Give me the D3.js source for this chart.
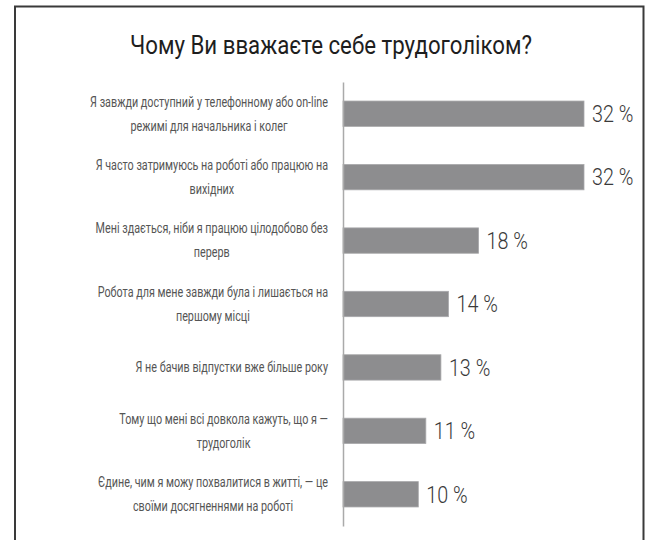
<!DOCTYPE html>
<html>
<head>
<meta charset="utf-8">
<script src="https://cdn.jsdelivr.net/npm/d3@7"></script>
<style>
  body { margin: 0; background: #fff; }
  svg { display: block; font-family: "Liberation Sans Narrow", "Roboto", sans-serif; }
</style>
</head>
<body>
<svg width="669" height="540"></svg>
<script>
"use strict";

const title = "Чому Ви вважаєте себе трудоголіком?";

// category labels, "\n" marks where the original wraps the line
const categories = [
  "Я завжди доступний у телефонному або on-line\nрежимі для начальника і колег",
  "Я часто затримуюсь на роботі або працюю на\nвихідних",
  "Мені здається, ніби я працюю цілодобово без\nперерв",
  "Робота для мене завжди була і лишається на\nпершому місці",
  "Я не бачив відпустки вже більше року",
  "Тому що мені всі довкола кажуть, що я —\nтрудоголік",
  "Єдине, чим я можу похвалитися в житті, — це\nсвоїми досягненнями на роботі",
];

const values = [32, 32, 18, 14, 13, 11, 10];

window.addEventListener("load", drawGraph);

// the original uses a narrow (Calibri-like) face, so squeeze the text a bit
const squeeze = 0.77;

function drawGraph() {
  const svg = d3.select("svg");
  const data = categories.map((c, i) => ({ label: c, value: values[i] }));

  // frame of the scanned chart (bottom edge is cut off)
  svg.append("path")
    .attr("d", "M15,545 V6.5 H643.5 V545")
    .attr("fill", "none")
    .attr("stroke", "#3a3a3a")
    .attr("stroke-width", 2);

  svg.append("text")
    .attr("transform", "translate(331,54) scale(0.89,1)")
    .attr("text-anchor", "middle")
    .style("font-size", "25px")
    .style("fill", "#1e1e1e")
    .text(title);

  const y = d3.scaleBand()
    .domain(data.map((d) => d.label))
    .range([82, 526])
    .paddingInner(0.6)
    .paddingOuter(0.3);

  const x = d3.scaleLinear()
    .domain([0, d3.max(values)])
    .range([343, 584]);

  svg.selectAll(".bar")
    .data(data)
    .enter()
    .append("rect")
    .attr("class", "bar")
    .attr("x", x(0))
    .attr("y", (d) => y(d.label))
    .attr("width", (d) => x(d.value) - x(0))
    .attr("height", y.bandwidth())
    .attr("fill", "#8d8d8f")
    .attr("stroke", "#a9a9ab")
    .attr("stroke-width", 0.8);

  svg.selectAll(".value")
    .data(data)
    .enter()
    .append("text")
    .attr("class", "value")
    .attr("transform", (d) => `translate(${x(d.value) + 8},${y(d.label) + y.bandwidth() / 2}) scale(0.86,1)`)
    .attr("dy", "0.36em")
    .style("font-size", "23px")
    .style("font-weight", 300)
    .style("fill", "#3a3a3a")
    .text((d) => d.value + " %");

  // axis line only, no ticks
  svg.append("g")
    .attr("transform", `translate(${x(0)},0)`)
    .call(d3.axisLeft(y).tickSize(0).tickFormat(""))
    .call((g) => g.select(".domain").attr("stroke", "#aaa").attr("stroke-width", 1.5));

  // wrapped labels: lines centred on each other, block right-aligned at x=328
  const lineH = 24;
  const labels = svg.selectAll(".cat")
    .data(data)
    .enter()
    .append("g")
    .attr("class", "cat")
    .attr("transform", (d) => `translate(328,${y(d.label) + y.bandwidth() / 2}) scale(${squeeze},1)`);

  labels.each(function (d) {
    const g = d3.select(this);
    const lines = d.label.split("\n");
    const t = g.selectAll("text")
      .data(lines)
      .enter()
      .append("text")
      .attr("y", (l, i) => (i - (lines.length - 1) / 2) * lineH)
      .attr("dy", "0.35em")
      .attr("text-anchor", "middle")
      .style("font-size", "14px")
      .style("fill", "#555")
      .text((l) => l);
    let maxW = 0;
    t.each(function () { maxW = Math.max(maxW, this.getComputedTextLength()); });
    t.attr("x", -maxW / 2);
  });
}
</script>
</body>
</html>
